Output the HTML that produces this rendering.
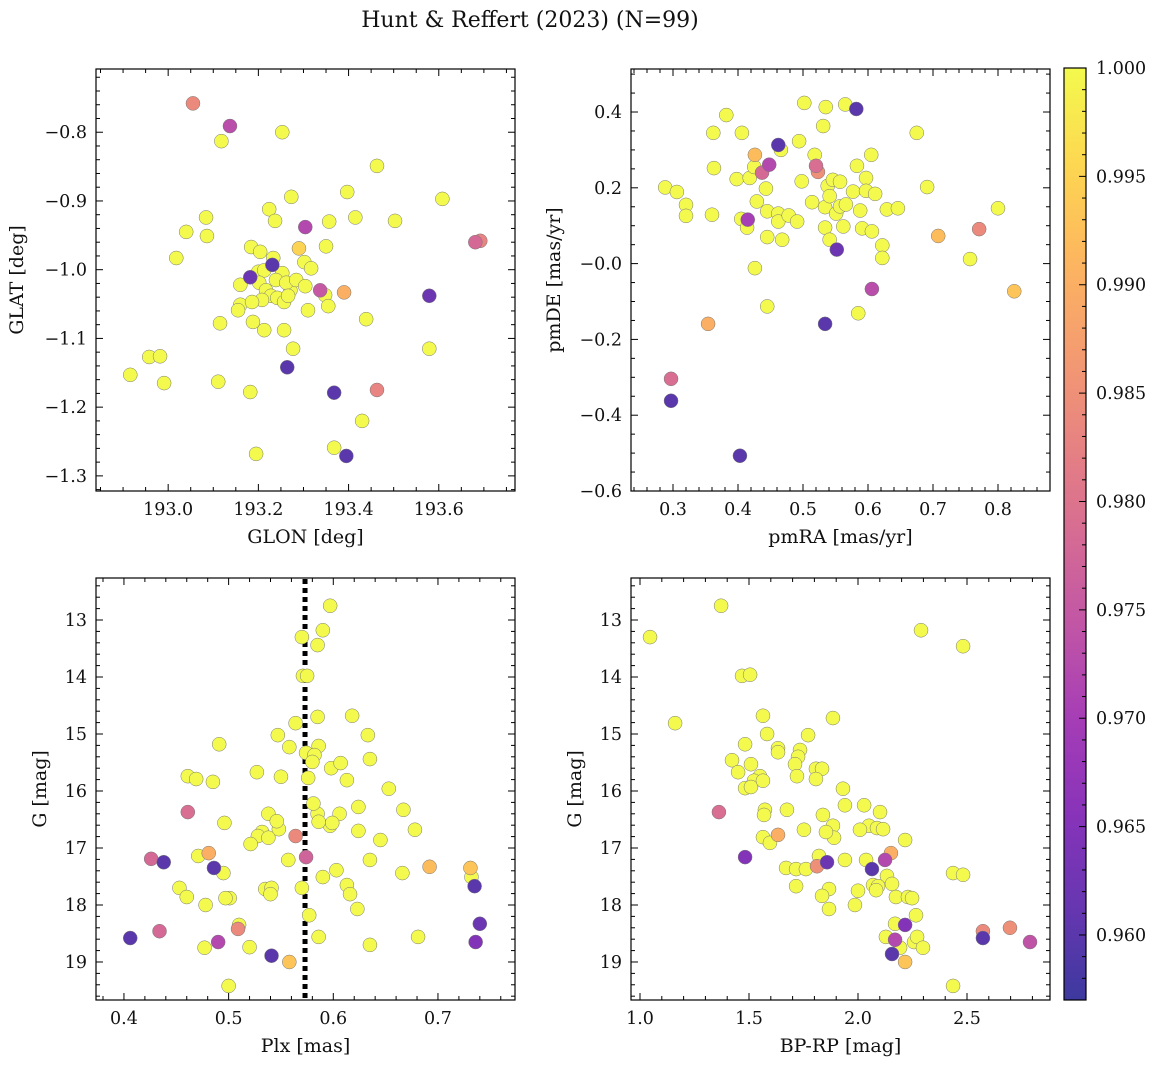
<!DOCTYPE html>
<html><head><meta charset="utf-8">
<style>
html,body{margin:0;padding:0;background:#fff;}
svg text{font-family:"DejaVu Serif","Liberation Serif",serif;fill:#111;}
</style></head>
<body>
<svg id="fig" width="1161" height="1068" viewBox="0 0 1161 1068" xmlns="http://www.w3.org/2000/svg">
<text x="530" y="27" font-size="22" text-anchor="middle">Hunt &amp; Reffert (2023) (N=99)</text>
</svg>
<script>
// ---------- Panel 1: GLON / GLAT ----------
const glon = [193.055,193.137,193.118,193.253,193.463,193.273,193.397,193.608,193.224,193.084,193.415,193.503,193.357,193.237,193.304,193.040,193.086,193.184,193.290,193.350,193.681,193.692,193.018,193.204,193.233,193.302,193.317,193.231,193.182,
193.200,193.213,193.253,193.239,193.202,193.217,193.271,193.228,193.242,193.257,193.208,193.160,193.160,193.186,193.262,193.284,193.266,193.304,193.337,193.348,193.390,193.355,193.310,193.439,193.155,193.188,193.213,193.257,193.277,193.115,193.264,193.579,193.579,193.368,193.463,192.958,192.982,192.916,192.991,193.111,193.182,193.430,193.368,193.395,193.195];
const glat = [-0.758,-0.791,-0.813,-0.800,-0.849,-0.894,-0.887,-0.897,-0.912,-0.924,-0.924,-0.929,-0.930,-0.929,-0.938,-0.945,-0.951,-0.967,-0.969,-0.966,-0.960,-0.958,-0.983,-0.974,-0.983,-0.989,-0.998,-0.993,-1.011,
-1.003,-1.001,-1.005,-1.015,-1.019,-1.030,-1.030,-1.038,-1.041,-1.047,-1.044,-1.022,-1.051,-1.047,-1.019,-1.015,-1.038,-1.024,-1.030,-1.037,-1.033,-1.053,-1.059,-1.072,-1.059,-1.076,-1.088,-1.088,-1.115,-1.078,-1.142,-1.038,-1.115,-1.179,-1.175,-1.127,-1.126,-1.153,-1.165,-1.163,-1.178,-1.220,-1.259,-1.271,-1.268];
const prob1 = [0.984,0.973,1,1,1,1,1,1,1,1,1,1,1,1,0.972,1,1,1,0.995,1,0.978,0.983,1,1,1,1,1,0.96,0.962,
1,1,1,1,1,1,1,1,1,1,1,1,1,1,1,1,1,1,0.975,1,0.99,1,1,1,1,1,1,1,1,1,0.96,0.962,1,0.96,0.983,1,1,1,1,1,1,1,1,0.96,1];

// ---------- Panel 2: pmRA / pmDE ----------
const pmra = [0.288,0.306,0.320,0.320,0.297,0.297,0.362,0.382,0.363,0.360,0.354,0.406,0.398,0.405,0.414,0.418,0.425,0.426,0.415,0.426,0.403,0.437,0.448,0.443,0.429,0.445,0.445,0.445,0.462,0.466,0.462,0.462,0.468,0.478,0.491,0.494,0.498,0.502,0.514,0.518,0.520,0.523,0.531,0.534,0.534,0.534,0.535,0.538,0.541,0.546,0.541,0.551,0.557,0.565,0.562,0.557,0.552,0.582,0.566,0.577,0.583,0.588,0.591,0.585,0.597,0.597,0.605,0.606,0.611,0.606,0.622,0.622,0.629,0.646,0.675,0.691,0.708,0.757,0.771,0.800,0.825];
const pmde = [0.201,0.189,0.155,0.126,-0.304,-0.362,0.345,0.392,0.252,0.129,-0.159,0.345,0.223,0.118,0.095,0.226,0.255,0.287,0.116,-0.012,-0.507,0.240,0.261,0.198,0.164,0.138,0.070,-0.113,0.313,0.300,0.132,0.111,0.063,0.127,0.111,0.323,0.217,0.424,0.162,0.287,0.258,0.242,0.363,0.149,0.095,-0.159,0.413,0.205,0.178,0.221,0.063,0.132,0.151,0.420,0.098,0.216,0.037,0.408,0.156,0.190,0.258,0.140,0.093,-0.131,0.226,0.192,0.287,0.085,0.184,-0.067,0.048,0.015,0.143,0.146,0.345,0.202,0.073,0.012,0.091,0.146,-0.073];
const prob2 = [1,1,1,1,0.979,0.96,1,1,1,1,0.99,1,1,1,1,1,1,0.992,0.97,1,0.96,0.978,0.972,1,1,1,1,1,0.96,1,1,1,1,1,1,1,1,1,1,1,0.979,0.985,1,1,1,0.96,1,1,1,1,1,1,1,1,1,1,0.962,0.96,1,1,1,1,1,1,1,1,1,1,1,0.973,1,1,1,1,1,1,0.992,1,0.984,1,0.993];

// ---------- Panel 3: Plx / G ----------
const plx = [0.597,0.590,0.570,0.585,0.571,0.575,0.618,0.564,0.585,0.547,0.491,0.633,0.586,0.558,0.574,0.582,0.635,0.580,0.598,0.607,0.527,0.461,0.469,0.485,0.576,0.550,0.613,0.653,0.624,0.585,0.597,0.538,0.548,0.546,0.496,0.461,0.581,0.606,0.599,0.586,0.667,0.645,0.624,0.678,0.532,0.528,0.521,0.538,0.564,0.574,0.557,0.603,0.590,0.635,0.666,0.692,0.731,0.732,0.735,0.426,0.438,0.481,0.486,0.471,0.495,0.453,0.460,0.478,0.501,0.497,0.535,0.541,0.540,0.570,0.577,0.613,0.616,0.623,0.510,0.509,0.434,0.406,0.477,0.490,0.520,0.586,0.635,0.681,0.740,0.736,0.541,0.558,0.500];
const gmag3 = [12.75,13.18,13.30,13.44,13.98,13.98,14.68,14.81,14.70,15.02,15.18,15.02,15.21,15.23,15.33,15.37,15.44,15.49,15.60,15.51,15.67,15.74,15.79,15.84,15.77,15.75,15.81,15.96,16.28,16.40,16.61,16.40,16.67,16.53,16.56,16.37,16.22,16.40,16.56,16.54,16.33,16.86,16.70,16.68,16.72,16.79,16.93,16.82,16.79,17.16,17.21,17.39,17.51,17.21,17.44,17.33,17.35,17.51,17.67,17.19,17.25,17.09,17.35,17.14,17.44,17.70,17.86,18.00,17.88,17.88,17.72,17.70,17.81,17.70,18.18,17.65,17.81,18.07,18.35,18.42,18.46,18.58,18.75,18.65,18.74,18.56,18.70,18.56,18.33,18.65,18.89,19.00,19.42];
const prob3 = [1,1,1,1,1,1,1,1,1,1,1,1,1,1,1,1,1,1,1,1,1,1,1,1,1,1,1,1,1,1,1,1,1,1,1,0.979,1,1,1,1,1,1,1,1,1,1,1,1,0.984,0.977,1,1,1,1,1,0.992,0.993,1,0.96,0.978,0.96,0.99,0.96,1,1,1,1,1,1,1,1,1,1,1,1,1,1,1,1,0.984,0.978,0.96,1,0.972,1,1,1,1,0.962,0.965,0.96,0.993,1];

// ---------- Panel 4: BP-RP / G ----------
const bprp = [1.046,1.161,1.372,1.468,1.505,2.289,2.482,1.564,1.885,1.771,1.583,1.482,1.422,1.450,1.509,1.550,1.633,1.633,1.734,1.725,1.711,1.720,1.807,1.835,1.807,1.482,1.523,1.509,1.564,1.931,1.362,1.573,1.569,1.674,1.564,1.596,1.633,1.752,1.885,1.940,2.028,1.839,1.890,1.853,2.101,2.050,2.087,2.115,2.009,2.216,1.482,1.670,1.716,1.761,1.812,1.821,1.858,1.940,2.037,2.064,2.124,2.151,2.133,2.156,2.069,2.092,2.083,1.716,1.867,2.000,1.835,2.174,2.229,2.248,1.867,1.986,2.266,2.436,2.482,2.170,2.216,2.128,2.170,2.193,2.257,2.271,2.298,2.436,2.573,2.573,2.697,2.789,2.156,2.216];
const gmag4 = [13.30,14.81,12.75,13.98,13.96,13.18,13.46,14.68,14.72,15.02,15.00,15.18,15.46,15.67,15.53,15.74,15.25,15.32,15.28,15.40,15.53,15.74,15.61,15.61,15.79,15.95,15.82,15.93,15.82,15.96,16.37,16.33,16.42,16.33,16.81,16.91,16.77,16.68,16.61,16.25,16.25,16.42,16.82,16.72,16.37,16.61,16.65,16.67,16.68,16.86,17.16,17.35,17.37,17.37,17.32,17.14,17.25,17.21,17.21,17.37,17.21,17.09,17.49,17.63,17.65,17.67,17.74,17.67,17.72,17.75,17.84,17.86,17.86,17.88,18.07,18.00,18.18,17.44,17.47,18.33,18.35,18.56,18.61,18.75,18.65,18.56,18.75,19.42,18.46,18.58,18.40,18.65,18.86,19.00];
const prob4 = [1,1,1,1,1,1,1,1,1,1,1,1,1,1,1,1,1,1,1,1,1,1,1,1,1,1,1,1,1,1,0.979,1,1,1,1,1,0.99,1,1,1,1,1,1,1,1,1,1,1,1,1,0.965,1,1,1,0.985,1,0.962,1,1,0.96,0.972,0.99,1,1,1,1,1,1,1,1,1,1,1,1,1,1,1,1,1,1,0.965,1,0.972,1,1,1,1,1,0.984,0.96,0.985,0.974,0.96,0.993];

const plxLine = 0.573;
const cbTicks = [0.960,0.965,0.970,0.975,0.980,0.985,0.990,0.995,1.000];
const VMIN = 0.957, VMAX = 1.0;
const TICK_FS = 17.5;

const NS = "http://www.w3.org/2000/svg";
const fig = document.getElementById('fig');
function el(tag, attrs, parent){ const e=document.createElementNS(NS,tag); for(const k in attrs) e.setAttribute(k,attrs[k]); (parent||fig).appendChild(e); return e; }

const stops = ["#0d0887","#41049d","#6a00a8","#8f0da4","#b12a90","#cc4778","#e16462","#f2844b","#fca636","#fcce25","#f0f921"];
function hex(h){return [parseInt(h.substr(1,2),16),parseInt(h.substr(3,2),16),parseInt(h.substr(5,2),16)];}
function plasma(t){ t=Math.max(0,Math.min(1,t)); const p=t*10, i=Math.min(9,Math.floor(p)), f=p-i; const a=hex(stops[i]), b=hex(stops[i+1]);
  const alpha=0.8; const c=a.map((v,k)=>Math.round((v+(b[k]-v)*f)*alpha+255*(1-alpha)));
  return `rgb(${c[0]},${c[1]},${c[2]})`; }
function colorOf(p){ return plasma((p-VMIN)/(VMAX-VMIN)); }

function fmt(v,d){ return v.toFixed(d).replace('-','\u2212'); }

function panel(cfg){
  const {name,L,T,R,B,xmin,xmax,ymin,ymax,invertY,xMaj,xMin,xd,yMaj,yMin,yd,xlabel,ylabel,ylabX} = cfg;
  const sx = v => L+(v-xmin)/(xmax-xmin)*(R-L);
  const sy = v => invertY ? T+(v-ymin)/(ymax-ymin)*(B-T) : B-(v-ymin)/(ymax-ymin)*(B-T);
  const g = el('g',{});
  
  
  cfg.draw && cfg.draw(g,sx,sy);
  const xs=cfg.x, ys=cfg.y, ps=cfg.p;
  const order=[...xs.keys()].sort((a,b)=>ps[b]-ps[a]);
  order.forEach(i=>{
    const c=el('circle',{cx:sx(xs[i]),cy:sy(ys[i]),r:7,fill:colorOf(ps[i]),stroke:'#777','stroke-width':0.5},g);
    
    
  });
  el('rect',{x:L,y:T,width:R-L,height:B-T,fill:'none',stroke:'#000','stroke-width':1.2},g);
  const tk = el('g',{stroke:'#000','stroke-width':1},g);
  const eps=1e-9;
  for(let v=Math.ceil((xmin)/xMin-eps)*xMin; v<=xmax+eps; v+=xMin){
    const X=sx(v); const maj=Math.abs(v/xMaj-Math.round(v/xMaj))<1e-4; const len=maj?7:4;
    el('line',{x1:X,y1:B,x2:X,y2:B-len},tk); el('line',{x1:X,y1:T,x2:X,y2:T+len},tk);
    if(maj){ const t=el('text',{x:X,y:B+24,'font-size':TICK_FS,'text-anchor':'middle',stroke:'none'},g); t.textContent=fmt(v,xd);
      
       }
  }
  for(let v=Math.ceil((ymin)/yMin-eps)*yMin; v<=ymax+eps; v+=yMin){
    const Y=sy(v); const maj=Math.abs(v/yMaj-Math.round(v/yMaj))<1e-4; const len=maj?7:4;
    el('line',{x1:L,y1:Y,x2:L+len,y2:Y},tk); el('line',{x1:R,y1:Y,x2:R-len,y2:Y},tk);
    if(maj){ const t=el('text',{x:L-9,y:Y+6,'font-size':TICK_FS,'text-anchor':'end',stroke:'none'},g); t.textContent=fmt(v,yd);
      
       }
  }
  const xl=el('text',{x:(L+R)/2,y:B+52,'font-size':19,'text-anchor':'middle'},g); xl.textContent=xlabel;
  
  
  const yl=el('text',{x:ylabX,y:(T+B)/2,'font-size':19,'text-anchor':'middle',transform:`rotate(-90 ${ylabX} ${(T+B)/2})`},g); yl.textContent=ylabel;
  
  
}

panel({name:'glon-glat-panel',L:96,T:69,R:515,B:491,xmin:192.840,xmax:193.769,ymin:-1.322,ymax:-0.708,xMaj:0.2,xMin:0.05,xd:1,yMaj:0.1,yMin:0.02,yd:1,
  x:glon,y:glat,p:prob1,xlabel:'GLON [deg]',ylabel:'GLAT [deg]',ylabX:23});
panel({name:'proper-motion-panel',L:631,T:69,R:1050,B:491,xmin:0.2354,xmax:0.880,ymin:-0.6,ymax:0.5135,xMaj:0.1,xMin:0.02,xd:1,yMaj:0.2,yMin:0.05,yd:1,
  x:pmra,y:pmde,p:prob2,xlabel:'pmRA [mas/yr]',ylabel:'pmDE [mas/yr]',ylabX:560});
panel({name:'parallax-mag-panel',L:96,T:578,R:515,B:1000,xmin:0.3733,xmax:0.7736,ymin:12.263,ymax:19.667,invertY:true,xMaj:0.1,xMin:0.02,xd:1,yMaj:1,yMin:0.2,yd:0,
  x:plx,y:gmag3,p:prob3,xlabel:'Plx [mas]',ylabel:'G [mag]',ylabX:46,
  draw:(g,sx,sy)=>{ const l=el('line',{x1:sx(plxLine),x2:sx(plxLine),y1:579,y2:999,stroke:'#000','stroke-width':5,'stroke-dasharray':'5 4'},g);
    
     }});
panel({name:'cmd-panel',L:631,T:578,R:1050,B:1000,xmin:0.9587,xmax:2.8807,ymin:12.263,ymax:19.667,invertY:true,xMaj:0.5,xMin:0.1,xd:1,yMaj:1,yMin:0.2,yd:0,
  x:bprp,y:gmag4,p:prob4,xlabel:'BP-RP [mag]',ylabel:'G [mag]',ylabX:581});

// colorbar
(function(){
  const L=1064,R=1086,T=68,B=1000;
  const sy=v=>B-(v-VMIN)/(VMAX-VMIN)*(B-T);
  const g=el('g',{});
  
  
  const defs=el('defs',{},g);
  const lg=el('linearGradient',{id:'cbg',x1:0,y1:1,x2:0,y2:0},defs);
  for(let i=0;i<=20;i++){ el('stop',{offset:i/20,'stop-color':plasma(i/20)},lg); }
  el('rect',{x:L,y:T,width:R-L,height:B-T,fill:'url(#cbg)',stroke:'#000','stroke-width':1.2},g);
  for(let v=0.957; v<=1.0001; v+=0.001){
    const Y=sy(v); const maj=Math.abs(v/0.005-Math.round(v/0.005))<1e-4;
    el('line',{x1:R,y1:Y,x2:R-(maj?7:4),y2:Y,stroke:'#000','stroke-width':1},g);
  }
  cbTicks.forEach(v=>{ const t=el('text',{x:R+10,y:sy(v)+6,'font-size':TICK_FS},g); t.textContent=v.toFixed(3);
    
     });
})();
</script>
</body></html>
